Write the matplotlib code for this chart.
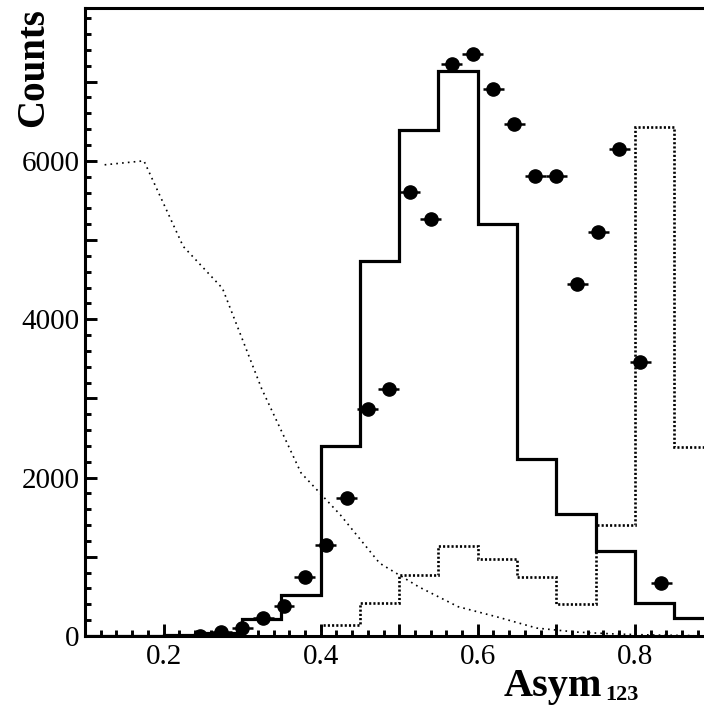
import numpy as np
import matplotlib
matplotlib.use("Agg")
import matplotlib.pyplot as plt
from matplotlib.ticker import FixedLocator, MultipleLocator, FuncFormatter

plt.rcParams['font.family'] = ['Liberation Serif', 'DejaVu Serif']

# coarse binning (0.05 wide) used by the two histograms and the falling curve
edges = np.array([0.10, 0.15, 0.20, 0.25, 0.30, 0.35, 0.40, 0.45, 0.50,
                  0.55, 0.60, 0.65, 0.70, 0.75, 0.80, 0.85, 0.90])
solid_hist = [0, 0, 10, 40, 215, 520, 2400, 4730, 6390, 7130, 5200, 2230,
              1540, 1075, 417, 227]
dotted_hist = [0, 0, 0, 0, 0, 0, 140, 420, 770, 1140, 970, 745, 404, 1400,
               6430, 2390]
falling = [5950, 6000, 4920, 4390, 3120, 2060, 1530, 920, 620, 370, 240, 100,
           50, 25, 12, 5]

# fine binning (30 bins between 0.1 and 0.9) for the data points
fine_edges = np.linspace(0.1, 0.9, 31)
data_bins = list(range(5, 28))
data_vals = [5, 55, 100, 230, 385, 750, 1150, 1740, 2870, 3120, 5610, 5260,
             7220, 7350, 6905, 6460, 5810, 5810, 4440, 5100, 6150, 3460, 670]

fig = plt.figure(figsize=(7.04, 7.09), dpi=100)
ax = fig.add_axes([85 / 704, 73 / 709, 1 - 85 / 704, 628 / 709])

centers = 0.5 * (edges[:-1] + edges[1:])
ax.plot(centers, falling, color='k', lw=1.2, ls=(0, (1, 2.5)))
ax.stairs(dotted_hist, edges, color='k', lw=1.9, ls=(0, (0.8, 0.8)))
ax.stairs(solid_hist, edges, color='k', lw=2.3)

fc = 0.5 * (fine_edges[:-1] + fine_edges[1:])
hw = 0.5 * (fine_edges[1] - fine_edges[0])
ax.errorbar(fc[data_bins], data_vals, xerr=hw, fmt='o', color='k', ms=9.5,
            elinewidth=1.8, capsize=0)

ax.set_xlim(0.1, 0.888)
ax.set_ylim(0, 7930)

ax.xaxis.set_major_locator(FixedLocator([0.1, 0.2, 0.3, 0.4, 0.5, 0.6, 0.7, 0.8]))
ax.xaxis.set_minor_locator(MultipleLocator(0.02))
ax.xaxis.set_major_formatter(FuncFormatter(
    lambda v, p: f"{v:.1f}" if round(v * 10) % 2 == 0 else ""))
ax.yaxis.set_major_locator(MultipleLocator(1000))
ax.yaxis.set_minor_locator(MultipleLocator(200))
ax.yaxis.set_major_formatter(FuncFormatter(
    lambda v, p: f"{int(v)}" if int(v) % 2000 == 0 else ""))

ax.tick_params(which='both', direction='in', width=2.1, top=False, right=False,
               labelsize=21)
ax.tick_params(which='major', length=8.8)
ax.tick_params(which='minor', length=4.5)
ax.tick_params(axis='x', pad=6)
ax.tick_params(axis='y', pad=4)

for s in ['left', 'bottom', 'top']:
    ax.spines[s].set_linewidth(2.2)
ax.spines['right'].set_visible(False)

fig.text(52 / 704, 1 - 8 / 709, 'Counts', rotation=90, ha='right', va='top',
         fontsize=28, fontweight='bold')
fig.text(602 / 704, 1 - 696 / 709, 'Asym', ha='right', va='baseline',
         fontsize=29, fontweight='bold')
fig.text(605 / 704, 1 - 700 / 709, '123', ha='left', va='baseline',
         fontsize=16, fontweight='bold')

fig.savefig('out.png', dpi=100)
